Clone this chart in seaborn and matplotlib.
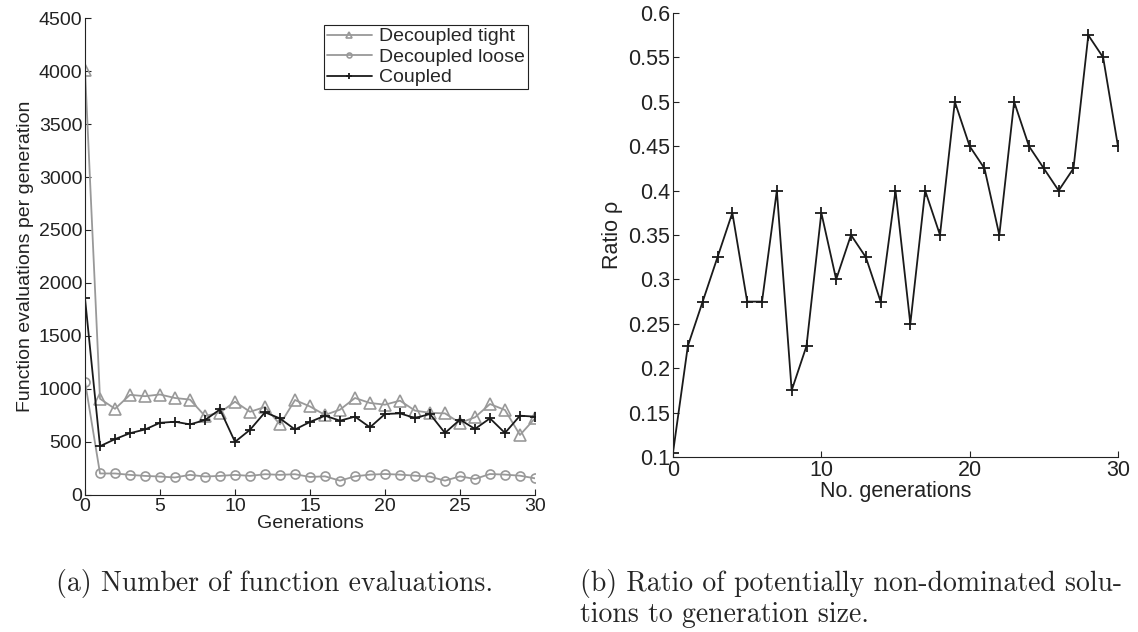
import matplotlib
matplotlib.use("Agg")
import matplotlib.pyplot as plt
import seaborn as sns
import pandas as pd

# ---- data ----
generations = list(range(31))
decoupled_tight = [4010, 908, 813, 945, 932, 948, 915, 900, 745, 778, 880, 785, 830, 666, 896,
                   835, 755, 805, 915, 868, 852, 890, 796, 775, 770, 680, 733, 858, 802, 566, 723]
decoupled_loose = [1070, 203, 203, 190, 180, 174, 165, 190, 174, 180, 190, 180, 196, 190, 196,
                   170, 176, 135, 176, 192, 198, 192, 182, 173, 135, 176, 151, 198, 192, 182, 157]
coupled = [1855, 460, 527, 583, 618, 681, 691, 666, 707, 807, 501, 615, 780, 722, 618,
           689, 748, 701, 739, 638, 764, 770, 726, 764, 585, 711, 623, 723, 585, 748, 739]
ratio = [0.105, 0.225, 0.275, 0.325, 0.375, 0.275, 0.275, 0.4, 0.175, 0.225, 0.375, 0.3, 0.35,
         0.325, 0.275, 0.4, 0.25, 0.4, 0.35, 0.5, 0.45, 0.425, 0.35, 0.5, 0.45, 0.425, 0.4,
         0.425, 0.575, 0.55, 0.45]

left_yticks = list(range(0, 4501, 500))
left_xticks = [0, 5, 10, 15, 20, 25, 30]
right_yticks = [0.1, 0.15, 0.2, 0.25, 0.3, 0.35, 0.4, 0.45, 0.5, 0.55, 0.6]
right_ytick_labels = ["0.1", "0.15", "0.2", "0.25", "0.3", "0.35", "0.4", "0.45", "0.5", "0.55", "0.6"]
right_xticks = [0, 10, 20, 30]

sns.set_style("ticks")
plt.rcParams["font.family"] = ["Liberation Sans", "DejaVu Sans"]
plt.rcParams["xtick.direction"] = "in"
plt.rcParams["ytick.direction"] = "in"

df = pd.DataFrame({"gen": generations, "tight": decoupled_tight,
                   "loose": decoupled_loose, "coupled": coupled, "ratio": ratio})

gray = "#999999"
dark = "#1a1a1a"
fig = plt.figure(figsize=(11.38, 6.32), dpi=100)

# ---- left panel ----
ax1 = fig.add_axes([0.0747, 0.2168, 0.3954, 0.7547])
sns.lineplot(data=df, x="gen", y="tight", ax=ax1, color=gray, lw=1.3, marker="^", ms=8,
             markerfacecolor="none", markeredgecolor=gray, markeredgewidth=1.2, label="Decoupled tight")
sns.lineplot(data=df, x="gen", y="loose", ax=ax1, color=gray, lw=1.3, marker="o", ms=6.5,
             markerfacecolor="none", markeredgecolor=gray, markeredgewidth=1.2, label="Decoupled loose")
sns.lineplot(data=df, x="gen", y="coupled", ax=ax1, color=dark, lw=1.3, marker="+", ms=7.5,
             markeredgecolor=dark, markeredgewidth=1.3, label="Coupled")
ax1.set_xlim(0, 30)
ax1.set_ylim(0, 4500)
ax1.set_xticks(left_xticks)
ax1.set_yticks(left_yticks)
ax1.tick_params(labelsize=14, length=4, width=0.8, pad=2, colors="#222222")
ax1.set_xlabel("Generations", fontsize=14, labelpad=0, color="#222222")
ax1.set_ylabel("Function evaluations per generation", fontsize=14, labelpad=3, color="#222222")
for s in ["top", "right"]:
    ax1.spines[s].set_visible(False)
for s in ["left", "bottom"]:
    ax1.spines[s].set_linewidth(0.8)
    ax1.spines[s].set_color("#222222")
leg = ax1.legend(loc="upper right", fontsize=14, frameon=True, fancybox=False,
                 edgecolor="#222222", framealpha=1, borderpad=0.15, labelspacing=0.15,
                 handlelength=2.3, handletextpad=0.4, borderaxespad=0.35, markerscale=0.55)
leg.get_frame().set_linewidth(0.8)

# ---- right panel ----
ax2 = fig.add_axes([0.5914, 0.2769, 0.391, 0.7025])
sns.lineplot(data=df, x="gen", y="ratio", ax=ax2, color=dark, lw=1.3, marker="+", ms=8,
             markeredgecolor=dark, markeredgewidth=1.3)
ax2.set_xlim(0, 30)
ax2.set_ylim(0.1, 0.6)
ax2.set_xticks(right_xticks)
ax2.set_yticks(right_yticks)
ax2.set_yticklabels(right_ytick_labels)
ax2.tick_params(labelsize=15.5, length=4, width=0.8, pad=2, colors="#222222")
ax2.set_xlabel("No. generations", fontsize=15.5, labelpad=0, color="#222222")
ax2.set_ylabel("Ratio ρ", fontsize=15.5, labelpad=4, color="#222222")
for s in ["top", "right"]:
    ax2.spines[s].set_visible(False)
for s in ["left", "bottom"]:
    ax2.spines[s].set_linewidth(0.8)
    ax2.spines[s].set_color("#222222")

# ---- captions ----
cap_font = ["cmr10", "DejaVu Serif"]
fig.text(275 / 1138, 1 - 583 / 632, "(a) Number of function evaluations.", fontsize=20,
         family=cap_font, ha="center", va="center")
fig.text(1122 / 1138, 1 - 583 / 632, "(b) Ratio of potentially non-dominated solu-", fontsize=20,
         family=cap_font, ha="right", va="center")
fig.text(580 / 1138, 1 - 615 / 632, "tions to generation size.", fontsize=20,
         family=cap_font, ha="left", va="center")

fig.savefig("out.png", dpi=100)
